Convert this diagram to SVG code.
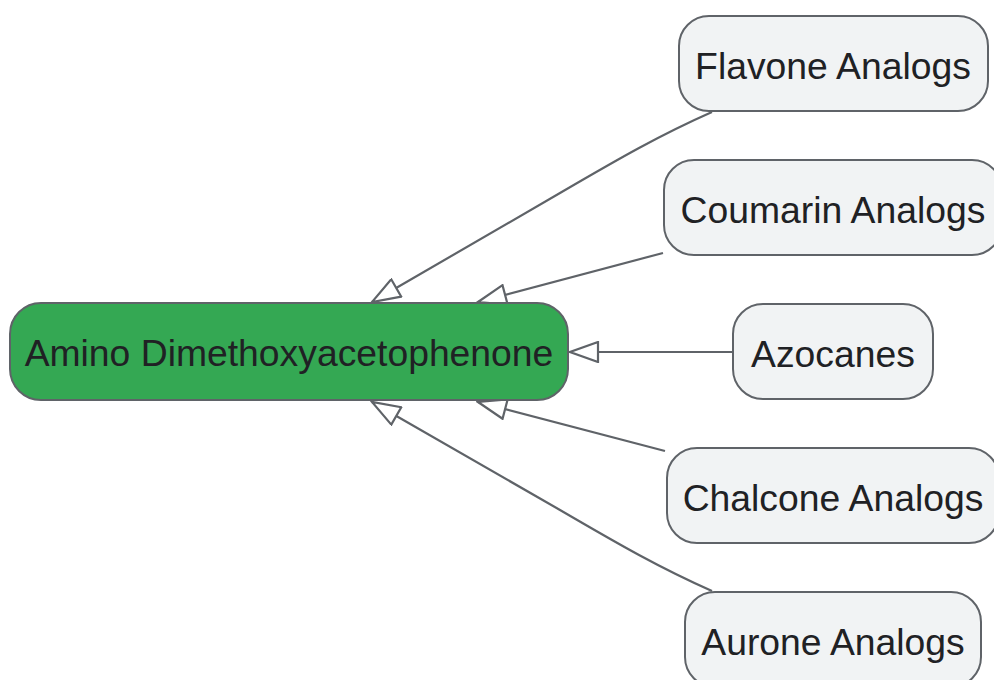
<svg xmlns="http://www.w3.org/2000/svg" width="994" height="680" viewBox="0 0 994 680">
<style>
.node rect{fill:#f1f3f4;stroke:#5f6368;stroke-width:2}
#main rect{fill:#34a853}
text{font-family:"Liberation Sans",Arial,sans-serif;font-size:37.3px;fill:#202124;text-anchor:middle}
.edge{fill:none;stroke:#5f6368;stroke-width:2.2;marker-end:url(#arr)}
</style>
<defs>
<marker id="arr" viewBox="0 0 32 22" refX="30" refY="11" markerWidth="32" markerHeight="22" markerUnits="userSpaceOnUse" orient="auto">
<path d="M2,1 L30,11 L2,21 Z" fill="#ffffff" stroke="#5f6368" stroke-width="2.2" stroke-linejoin="miter"/>
</marker>
</defs>
<g id="connectors">
<path class="edge" d="M712,112 C660,135 620,158 560,193 L372,302"/>
<path class="edge" d="M663,253 L478,302"/>
<path class="edge" d="M732,352 L570,352"/>
<path class="edge" d="M665,451 L478,402"/>
<path class="edge" d="M712,591 C660,568 620,545 560,510 L372,402"/>
</g>
<g id="main" class="node"><rect x="10" y="303" width="558" height="97" rx="31"/><text x="289" y="366">Amino Dimethoxyacetophenone</text></g>
<g id="flavone" class="node"><rect x="679" y="16" width="309" height="95" rx="30"/><text x="833" y="79">Flavone Analogs</text></g>
<g id="coumarin" class="node"><rect x="664" y="160" width="338" height="95" rx="30"/><text x="833" y="223">Coumarin Analogs</text></g>
<g id="azocanes" class="node"><rect x="733" y="304" width="200" height="95" rx="30"/><text x="833" y="367">Azocanes</text></g>
<g id="chalcone" class="node"><rect x="667" y="448" width="332" height="95" rx="30"/><text x="833" y="511">Chalcone Analogs</text></g>
<g id="aurone" class="node"><rect x="685" y="592" width="296" height="95" rx="30"/><text x="833" y="655">Aurone Analogs</text></g>
</svg>
